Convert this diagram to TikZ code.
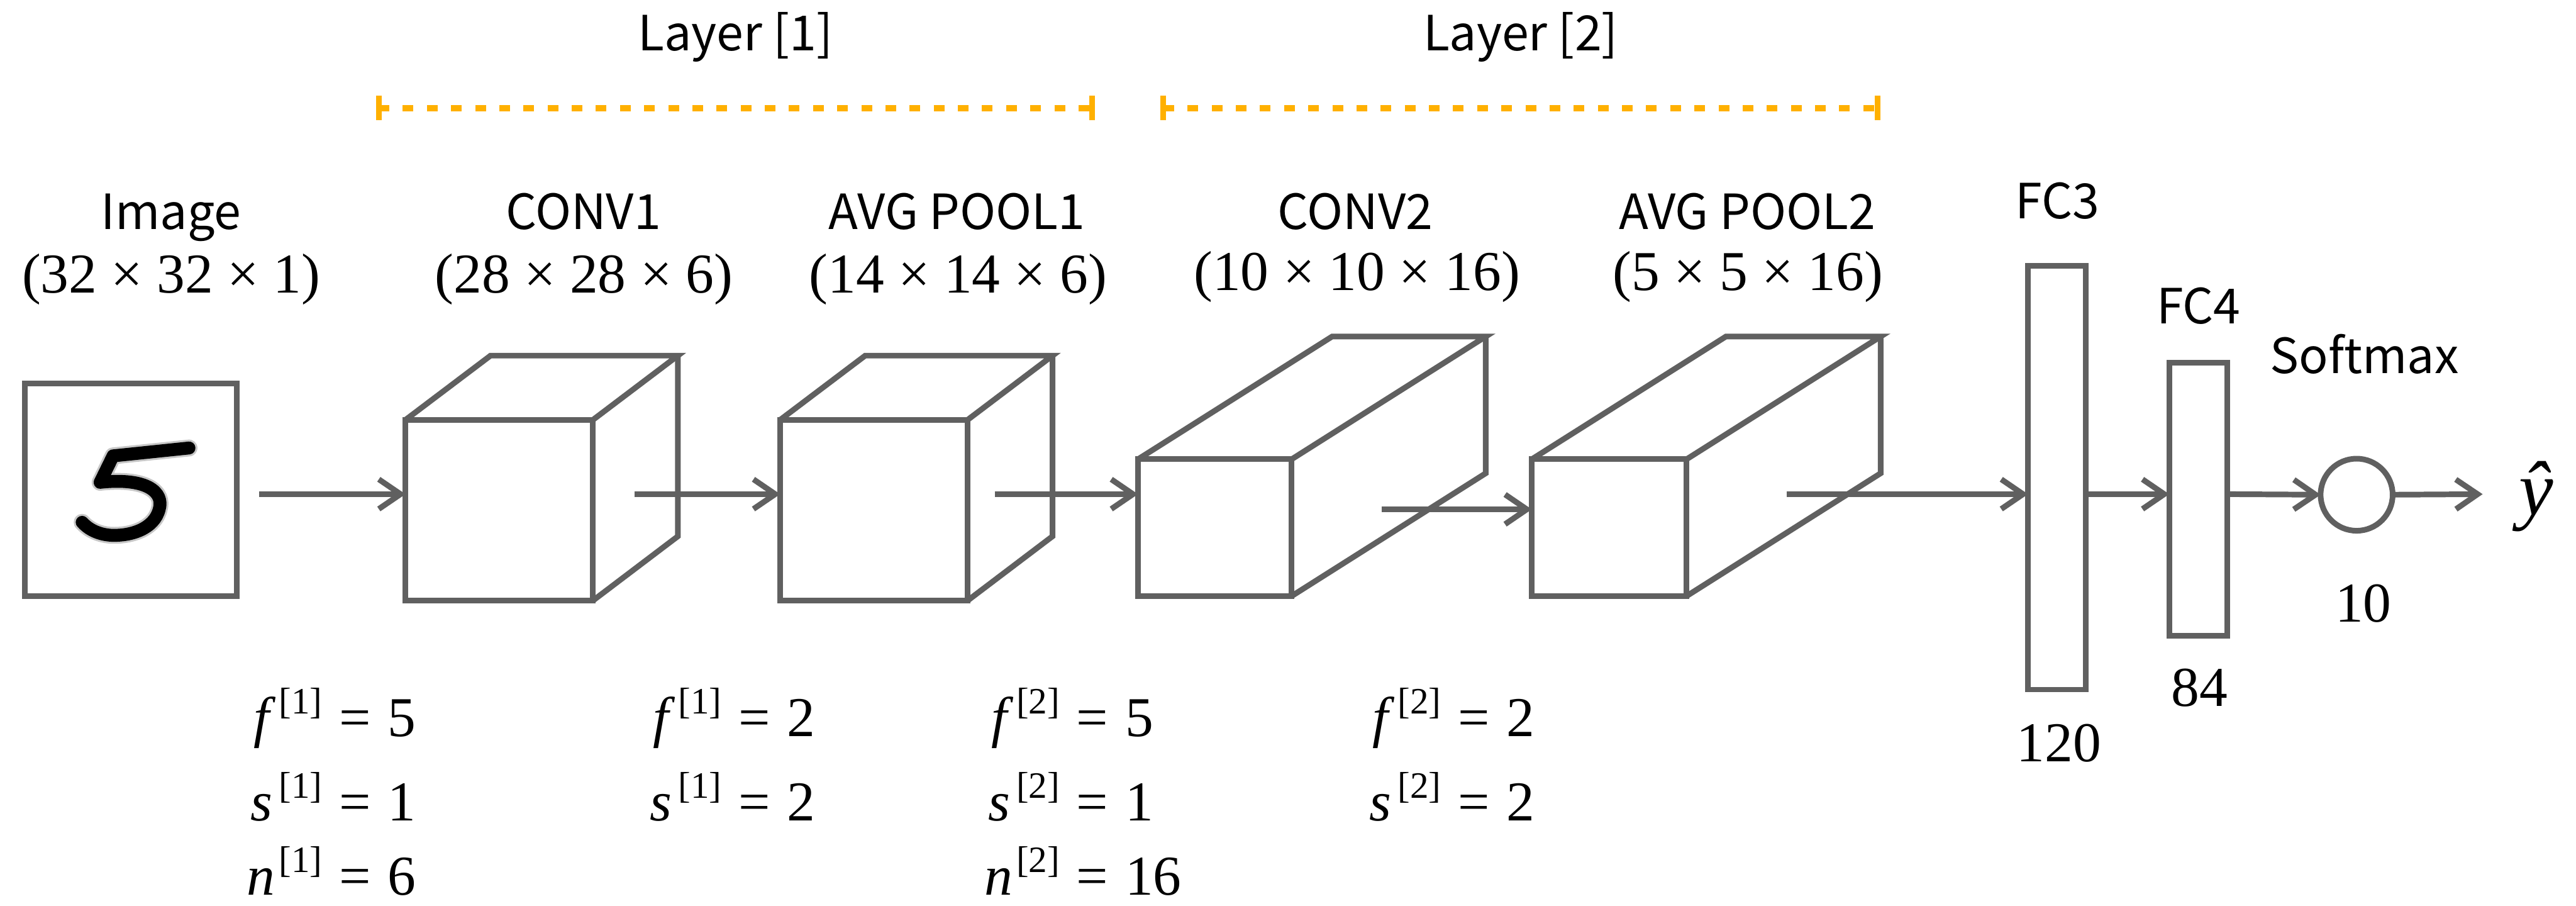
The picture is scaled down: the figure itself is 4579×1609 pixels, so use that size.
\documentclass[tikz,border=0pt]{standalone}
\usepackage{fontspec}
\setmainfont{Liberation Serif}
\newfontfamily\timesfont{Liberation Serif}
\newfontfamily\labelfont{Noto Sans CJK SC}
\usetikzlibrary{arrows.meta}
\definecolor{edgegray}{RGB}{96,96,96}
\definecolor{layerorange}{RGB}{255,176,0}

% hyper-parameter line: letter, kern after letter, layer index, value
\newcommand\hyp[4]{\makebox[0.57em][r]{{\timesfont\itshape #1}\kern#2}%
  \raisebox{0.4em}{\fontsize{18.8}{18.8}\timesfont [#3]}%
  \hspace{0.3em}=\hspace{0.3em}#4}

\tikzset{
  blockedge/.style={draw=edgegray, line width=2.85pt},
  block/.style={blockedge, inner sep=0pt, outer sep=0pt, fill=white},
  arr/.style={draw=edgegray, line width=2.85pt,
    -{Straight Barb[length=11pt,width=15pt]}},
  lab/.style={inner sep=0pt, anchor=base,
    font=\labelfont\fontsize{24.5}{28}\selectfont},
  dims/.style={inner sep=0pt, anchor=base,
    font=\timesfont\fontsize{28.45}{34}\selectfont},
  eqn/.style={inner sep=0pt, anchor=base west,
    font=\timesfont\fontsize{28.45}{34}\selectfont},
  layerdash/.style={draw=layerorange, line width=3.1pt,
    dash pattern=on 5.4pt off 6.8pt},
  layertick/.style={draw=layerorange, line width=2.85pt},
  digitstroke/.style={line cap=round, line join=round},
}

\begin{document}
\begin{tikzpicture}[x=0.01cm,y=-0.01cm]
\useasboundingbox (0,0) rectangle (4579,1609);

% ---- layer brackets ----
\coordinate (L1a) at (673,192);  \coordinate (L1b) at (1941,192);
\coordinate (L2a) at (2068,192); \coordinate (L2b) at (3338,192);
\draw[layerdash] (L1a) -- (L1b);
\draw[layerdash] (L2a) -- (L2b);
\foreach \p in {L1a,L1b,L2a,L2b}
  \draw[layertick] (\p) ++(0,-22) -- ++(0,44);
\node[lab] (lay1) at (1307,90) {Layer [1]};
\node[lab] (lay2) at (2703,90) {Layer [2]};

% ---- input image: handwritten digit ----
\node[block, minimum width=3.77cm, minimum height=3.77cm] (img) at (232.5,870.5) {};
\foreach \w/\c in {8.5pt/black!22, 6.5pt/black}
  \draw[digitstroke, draw=\c, line width=\w]
    (336,796) -- (201,810) -- (178,857)
    .. controls (262,848) and (292,875) .. (283,905)
    .. controls (274,940) and (232,953) .. (196,951)
    .. controls (172,949) and (156,939) .. (146,928);

% ---- CONV1 ----
\node[block, minimum width=3.33cm, minimum height=3.21cm] (c1) at (887.5,906.5) {};
\draw[blockedge] (c1.north west) -- ++(151,-114) -- ++(333,0) coordinate (c1b) -- (c1.north east);
\draw[blockedge] (c1b) -- ++(0,321) -- (c1.south east);

% ---- AVG POOL1 ----
\node[block, minimum width=3.33cm, minimum height=3.21cm] (c2) at (1553.5,906.5) {};
\draw[blockedge] (c2.north west) -- ++(151,-114) -- ++(333,0) coordinate (c2b) -- (c2.north east);
\draw[blockedge] (c2b) -- ++(0,321) -- (c2.south east);

% ---- CONV2 ----
\node[block, minimum width=2.73cm, minimum height=2.43cm] (c3) at (2159.5,937.5) {};
\draw[blockedge] (c3.north west) -- ++(345,-218) -- ++(273,0) coordinate (c3b) -- (c3.north east);
\draw[blockedge] (c3b) -- ++(0,243) -- (c3.south east);

% ---- AVG POOL2 ----
\node[block, minimum width=2.75cm, minimum height=2.43cm] (c4) at (2860.5,937.5) {};
\draw[blockedge] (c4.north west) -- ++(345,-218) -- ++(275,0) coordinate (c4b) -- (c4.north east);
\draw[blockedge] (c4b) -- ++(0,243) -- (c4.south east);

% ---- fully connected layers and softmax ----
\node[block, minimum width=1.03cm, minimum height=7.53cm] (fc3) at (3656.5,848.5) {};
\node[block, minimum width=1.03cm, minimum height=4.85cm] (fc4) at (3907.5,887.5) {};
\node[block, circle, minimum size=1.28cm] (sm) at (4189,879) {};
\node[inner sep=0pt, font=\timesfont\fontsize{39}{39}\selectfont\itshape] (yhat) at (4508,882) {ŷ};

% ---- connectors ----
\coordinate (a0) at (461,878);
\coordinate (a1) at (1128,878);
\coordinate (a2) at (1768,878);
\coordinate (a3) at (2456,905);
\coordinate (a4) at (3176,878);
\coordinate (a7) at (4413,878);
\draw[arr] (a0) -- (a0 -| c1.west);
\draw[arr] (a1) -- (a1 -| c2.west);
\draw[arr] (a2) -- (a2 -| c3.west);
\draw[arr] (a3) -- (a3 -| c4.west);
\draw[arr] (a4) -- (a4 -| fc3.west);
\draw[arr] (a4 -| fc3.east) -- (a4 -| fc4.west);
\draw[arr] (a4 -| fc4.east) -- (sm.west);
\draw[arr] (sm.east) -- (a7);

% ---- block titles ----
\node[lab] (t0) at (304,408) {Image};
\node[lab] (t1) at (1037,408) {CONV1};
\node[lab] (t2) at (1701,408) {AVG POOL1};
\node[lab] (t3) at (2409,408) {CONV2};
\node[lab] (t4) at (3106,408) {AVG POOL2};
\node[lab] (t5) at (3657,388) {FC3};
\node[lab] (t6) at (3908,575) {FC4};
\node[lab] (t7) at (4203,663) {Softmax};

\node[dims] (d0) at (304,520) {(32 × 32 × 1)};
\node[dims] (d1) at (1038,520) {(28 × 28 × 6)};
\node[dims] (d2) at (1703,520) {(14 × 14 × 6)};
\node[dims] (d3) at (2412,516) {(10 × 10 × 16)};
\node[dims] (d4) at (3107,516) {(5 × 5 × 16)};

\node[dims, anchor=center] (u3) at (3660,1320) {120};
\node[dims, anchor=center] (u4) at (3910,1222) {84};
\node[dims, anchor=center] (u5) at (4201,1072) {10};

% ---- hyper-parameters ----
\node[eqn] (f1) at (438,1308) {\hyp{f}{0.17em}{1}{5}};
\node[eqn] (s1) at (438,1458) {\hyp{s}{0.11em}{1}{1}};
\node[eqn] (n1) at (438,1590) {\hyp{n}{0.07em}{1}{6}};
\node[eqn] (f2) at (1148,1308) {\hyp{f}{0.17em}{1}{2}};
\node[eqn] (s2) at (1148,1458) {\hyp{s}{0.11em}{1}{2}};
\node[eqn] (f3) at (1749,1308) {\hyp{f}{0.17em}{2}{5}};
\node[eqn] (s3) at (1749,1458) {\hyp{s}{0.11em}{2}{1}};
\node[eqn] (n3) at (1749,1590) {\hyp{n}{0.07em}{2}{16}};
\node[eqn] (f4) at (2427,1308) {\hyp{f}{0.17em}{2}{2}};
\node[eqn] (s4) at (2427,1458) {\hyp{s}{0.11em}{2}{2}};
\end{tikzpicture}
\end{document}
